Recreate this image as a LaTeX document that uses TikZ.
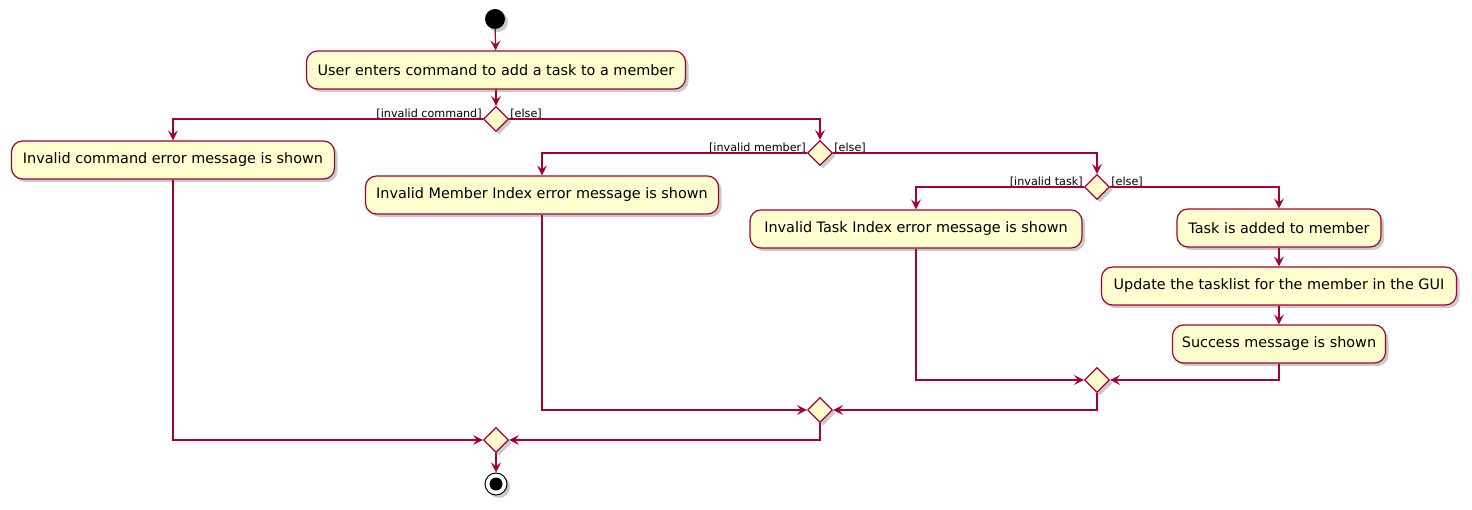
\documentclass[tikz,border=0pt]{standalone}
\usepackage{fontspec}
\setmainfont{DejaVu Sans}
\usetikzlibrary{arrows.meta,shapes.geometric,shadows}
\definecolor{umlred}{HTML}{A80036}
\definecolor{umlfill}{HTML}{FEFECE}
\tikzset{
  umlshadow/.style={drop shadow={shadow xshift=3pt,shadow yshift=-3pt,opacity=0.35,fill=black!60}},
  act/.style={draw=umlred,fill=umlfill,line width=1.2pt,rounded corners=11pt,inner sep=0pt,
    minimum height=38pt,font=\fontsize{14.4}{16}\selectfont,umlshadow},
  dec/.style={diamond,aspect=1,draw=umlred,fill=umlfill,line width=1.2pt,inner sep=0pt,
    minimum width=25pt,minimum height=25pt,umlshadow},
  flow/.style={draw=umlred,line width=1.2pt,-{Stealth[length=10pt,width=10pt,inset=4pt]}},
  guard/.style={font=\fontsize{11.2}{13}\selectfont,inner sep=1pt},
}
\begin{document}
\begin{tikzpicture}[x=1pt,y=-1pt]
\useasboundingbox (0,0) rectangle (1472,510);
\node[circle,fill=black,minimum size=20pt,inner sep=0pt,umlshadow] (start) at (495,19) {};
\node[act,minimum width=379pt] (a1) at (496,70) {User enters command to add a task to a member};
\node[dec] (d1) at (496,119) {};
\node[act,minimum width=323pt] (a2) at (173,160) {Invalid command error message is shown};
\node[dec] (d2) at (820,153) {};
\node[act,minimum width=353pt] (a3) at (542,195) {Invalid Member Index error message is shown};
\node[dec] (d3) at (1097,187) {};
\node[act,minimum width=332pt] (a4) at (916,229) {Invalid Task Index error message is shown};
\node[act,minimum width=204pt] (a5) at (1279,228) {Task is added to member};
\node[act,minimum width=355pt] (a6) at (1279,286) {Update the tasklist for the member in the GUI};
\node[act,minimum width=213pt] (a7) at (1279,344) {Success message is shown};
\node[dec] (d4) at (1097,380) {};
\node[dec] (d5) at (820,410) {};
\node[dec] (d6) at (496,440) {};
\node[circle,draw=black,line width=1pt,fill=white,minimum size=22pt,inner sep=0pt,umlshadow] (stop) at (496,484) {};
\node[circle,fill=black,minimum size=13pt,inner sep=0pt] (stopdot) at (stop.center) {};
% guards
\node[guard,anchor=south east] (g1l) at ([yshift=-1pt]d1.west) {[invalid command]};
\node[guard,anchor=south west] (g1r) at ([yshift=-1pt]d1.east) {[else]};
\node[guard,anchor=south east] (g2l) at ([yshift=-1pt]d2.west) {[invalid member]};
\node[guard,anchor=south west] (g2r) at ([yshift=-1pt]d2.east) {[else]};
\node[guard,anchor=south east] (g3l) at ([yshift=-1pt]d3.west) {[invalid task]};
\node[guard,anchor=south west] (g3r) at ([yshift=-1pt]d3.east) {[else]};
% flows
\draw[flow] (start) -- (a1);
\draw[flow] (a1) -- (d1);
\draw[flow] (d1.west) -| (a2.north);
\draw[flow] (d1.east) -| (d2.north);
\draw[flow] (d2.west) -| (a3.north);
\draw[flow] (d2.east) -| (d3.north);
\draw[flow] (d3.west) -| (a4.north);
\draw[flow] (d3.east) -| (a5.north);
\draw[flow] (a5) -- (a6);
\draw[flow] (a6) -- (a7);
\draw[flow] (a4.south) |- (d4.west);
\draw[flow] (a7.south) |- (d4.east);
\draw[flow] (d4.south) |- (d5.east);
\draw[flow] (a3.south) |- (d5.west);
\draw[flow] (d5.south) |- (d6.east);
\draw[flow] (a2.south) |- (d6.west);
\draw[flow] (d6) -- (stop);
\end{tikzpicture}
\end{document}
